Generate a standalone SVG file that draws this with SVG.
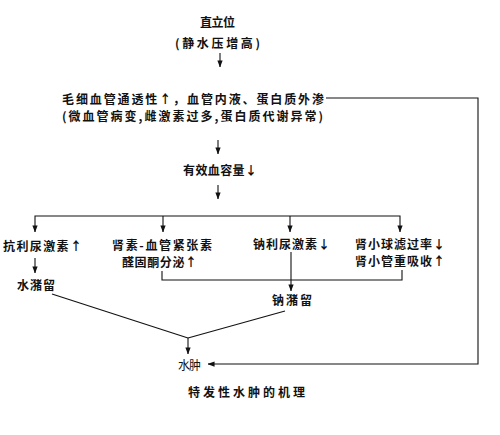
<svg xmlns="http://www.w3.org/2000/svg" width="500" height="435" viewBox="0 0 500 435">
<defs>
<marker id="ah" viewBox="0 0 8 8" refX="7.5" refY="4" markerWidth="7" markerHeight="7" markerUnits="userSpaceOnUse" orient="auto">
<path d="M0,1 L8,4 L0,7 Z" fill="#111"/>
</marker>
<style>
text{font-family:"Noto Sans CJK SC","Noto Sans CJK JP",sans-serif;font-size:12px;font-weight:bold;fill:#111}
.n{font-weight:normal}
.c line,.c path,.c polyline{stroke:#111;stroke-width:1.1;fill:none}
.a{marker-end:url(#ah)}
</style>
</defs>
<rect width="500" height="435" fill="#fff"/>
<g class="c" id="connectors">
<line class="a" x1="220" y1="53" x2="220" y2="67"/>
<line class="a" x1="218" y1="140" x2="218" y2="154"/>
<line class="a" x1="218" y1="185" x2="218" y2="199"/>
<path class="a" d="M218,216 H35 V232"/>
<path class="a" d="M218,216 H400 V232"/>
<line class="a" x1="163" y1="216" x2="163" y2="232"/>
<line class="a" x1="290" y1="216" x2="290" y2="232"/>
<line class="a" x1="35" y1="258" x2="35" y2="273"/>
<path d="M162,271 V280 H402 V270"/>
<line class="a" x1="291" y1="252" x2="291" y2="291"/>
<line x1="52" y1="294" x2="188" y2="338"/>
<line x1="285" y1="311" x2="188" y2="338"/>
<line class="a" x1="188" y1="338" x2="188" y2="354"/>
<path class="a" d="M326,98 H478 V364 H208"/>
</g>
<g id="n_zhiliwei"><text x="200" y="27" textLength="35" lengthAdjust="spacing">直立位</text>
<text x="175" y="48" textLength="85" lengthAdjust="spacing">(静水压增高)</text></g>
<g id="n_maoxi"><text x="62" y="104" textLength="262" lengthAdjust="spacing">毛细血管通透性↑，血管内液、蛋白质外渗</text>
<text x="62" y="121" textLength="261" lengthAdjust="spacing">(微血管病变,雌激素过多,蛋白质代谢异常)</text></g>
<g id="n_youxiao"><text x="183" y="175" textLength="74" lengthAdjust="spacing">有效血容量↓</text></g>
<g id="n_kangli"><text x="3" y="251" textLength="79" lengthAdjust="spacing">抗利尿激素↑</text></g>
<g id="n_shensu"><text x="112" y="250" textLength="100" lengthAdjust="spacing">肾素-血管紧张素</text>
<text x="122" y="267" textLength="75" lengthAdjust="spacing">醛固酮分泌↑</text></g>
<g id="n_nali"><text x="253" y="249" textLength="77" lengthAdjust="spacing">钠利尿激素↓</text></g>
<g id="n_shenxiao"><text x="355" y="249" textLength="90" lengthAdjust="spacing">肾小球滤过率↓</text>
<text x="355" y="266" textLength="90" lengthAdjust="spacing">肾小管重吸收↑</text></g>
<g id="n_shuizhu"><text x="17" y="290" textLength="38" lengthAdjust="spacing">水潴留</text></g>
<g id="n_nazhu"><text x="272" y="305" textLength="40" lengthAdjust="spacing">钠潴留</text></g>
<g id="n_shuizhong"><text class="n" x="178" y="370" textLength="23" lengthAdjust="spacing">水肿</text></g>
<g id="title"><text x="188" y="397" textLength="117" lengthAdjust="spacing">特发性水肿的机理</text></g>
</svg>
